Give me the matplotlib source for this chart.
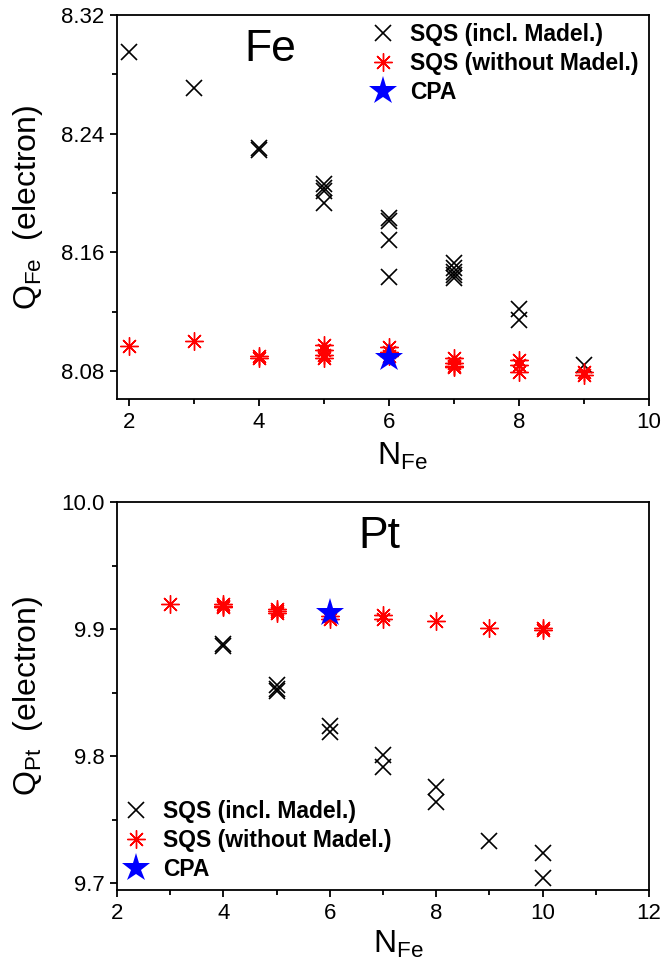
import numpy as np
import matplotlib
matplotlib.use("Agg")
import matplotlib.pyplot as plt
from matplotlib.ticker import MultipleLocator, FormatStrFormatter

plt.rcParams['font.family'] = ['Liberation Sans', 'DejaVu Sans']
plt.rcParams['mathtext.default'] = 'regular'

# Fe site charges
fe_incl_n = [2, 3, 4, 4, 5, 5, 5, 5, 6, 6, 6, 6, 7, 7, 7, 7, 7, 8, 8, 9]
fe_incl_q = [8.295, 8.271, 8.2303, 8.229, 8.206, 8.203, 8.201, 8.193,
             8.183, 8.181, 8.168, 8.143, 8.1528, 8.1494, 8.1467, 8.1447, 8.1427,
             8.122, 8.114, 8.084]
fe_wo_n = [2, 3, 4, 4, 5, 5, 5, 5, 6, 6, 6, 7, 7, 7, 7, 8, 8, 8, 9, 9]
fe_wo_q = [8.097, 8.100, 8.090, 8.089, 8.0975, 8.094, 8.091, 8.089,
           8.096, 8.093, 8.090, 8.0887, 8.0853, 8.0833, 8.0826,
           8.087, 8.084, 8.0795, 8.079, 8.077]
fe_cpa_n = [6]
fe_cpa_q = [8.0887]

# Pt site charges
pt_incl_n = [4, 4, 5, 5, 5, 6, 6, 7, 7, 8, 8, 9, 10, 10]
pt_incl_q = [9.888, 9.887, 9.856, 9.853, 9.851, 9.824, 9.819, 9.801, 9.791,
             9.776, 9.764, 9.733, 9.724, 9.704]
pt_wo_n = [3, 4, 4, 4, 5, 5, 5, 6, 6, 7, 7, 8, 9, 10, 10]
pt_wo_q = [9.920, 9.920, 9.918, 9.917, 9.916, 9.914, 9.913, 9.910, 9.908,
           9.911, 9.908, 9.906, 9.901, 9.901, 9.899]
pt_cpa_n = [6]
pt_cpa_q = [9.913]

labels = ["SQS (incl. Madel.)", "SQS (without Madel.)", "CPA"]
asterisk = (8, 2, 0)


def drawPanel(ax, incl_n, incl_q, wo_n, wo_q, cpa_n, cpa_q):
    ax.plot(incl_n, incl_q, linestyle='none', marker='x', color='black',
            markersize=12, markeredgewidth=1.2, label=labels[0])
    ax.plot(wo_n, wo_q, linestyle='none', marker=asterisk, color='red',
            markersize=13, markeredgewidth=1.0, label=labels[1])
    ax.plot(cpa_n, cpa_q, linestyle='none', marker='*', color='blue',
            markersize=21, markeredgewidth=0, label=labels[2])
    for s in ax.spines.values():
        s.set_linewidth(1.3)
    ax.tick_params(which='major', direction='out', length=5, width=1.3,
                   labelsize=16, pad=4)
    ax.tick_params(which='minor', direction='out', length=3.5, width=1.3)
    ax.xaxis.set_minor_locator(MultipleLocator(1))
    ax.xaxis.set_major_locator(MultipleLocator(2))


fig = plt.figure(figsize=(6.64, 9.69), dpi=100)
ax1 = fig.add_axes([0.1762, 0.5882, 0.8012, 0.3963])
ax2 = fig.add_axes([0.1762, 0.0815, 0.8012, 0.4004])

legend_font = {'weight': 'bold', 'size': 16.5}

# top panel
drawPanel(ax1, fe_incl_n, fe_incl_q, fe_wo_n, fe_wo_q, fe_cpa_n, fe_cpa_q)
ax1.set_xlim(1.815, 10)
ax1.set_ylim(8.061, 8.32)
ax1.yaxis.set_major_locator(MultipleLocator(0.08))
ax1.yaxis.set_minor_locator(MultipleLocator(0.04))
ax1.yaxis.set_major_formatter(FormatStrFormatter('%.2f'))
ax1.set_xlabel(r'$N_{Fe}$', fontsize=23)
ax1.set_ylabel(r'$Q_{Fe}$  (electron)', fontsize=23)
ax1.xaxis.set_label_coords(0.536, -0.11)
ax1.yaxis.set_label_coords(-0.135, 0.5)
ax1.text(0.288, 0.91, "Fe", transform=ax1.transAxes, fontsize=32,
         ha='center', va='center')
ax1.legend(loc='upper left', bbox_to_anchor=(0.478, 0.978), frameon=False,
           borderpad=0, borderaxespad=0, handlelength=1.0, handletextpad=0.68,
           labelspacing=0.26, prop=legend_font)

# bottom panel
drawPanel(ax2, pt_incl_n, pt_incl_q, pt_wo_n, pt_wo_q, pt_cpa_n, pt_cpa_q)
ax2.set_xlim(2, 12)
ax2.set_ylim(9.6945, 10.0)
ax2.yaxis.set_major_locator(MultipleLocator(0.1))
ax2.yaxis.set_minor_locator(MultipleLocator(0.05))
ax2.yaxis.set_major_formatter(FormatStrFormatter('%.1f'))
ax2.set_xlabel(r'$N_{Fe}$', fontsize=23)
ax2.set_ylabel(r'$Q_{Pt}$  (electron)', fontsize=23)
ax2.xaxis.set_label_coords(0.528, -0.10)
ax2.yaxis.set_label_coords(-0.135, 0.5)
ax2.text(0.494, 0.91, "Pt", transform=ax2.transAxes, fontsize=32,
         ha='center', va='center')
ax2.legend(loc='lower left', bbox_to_anchor=(0.014, 0.023), frameon=False,
           borderpad=0, borderaxespad=0, handlelength=1.0, handletextpad=0.68,
           labelspacing=0.26, prop=legend_font)

fig.savefig("out.png", dpi=100)
